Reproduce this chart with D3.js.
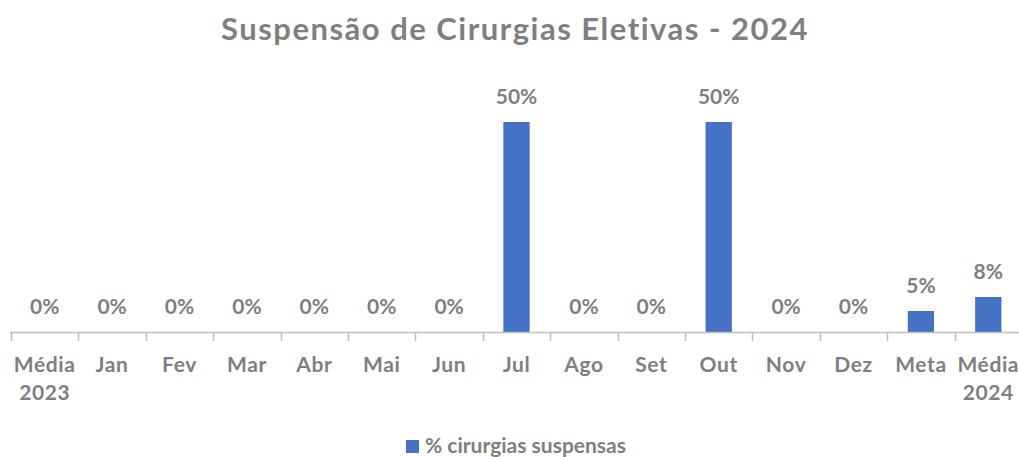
<!DOCTYPE html>
<html>
<head>
<meta charset="utf-8">
<script src="https://cdn.jsdelivr.net/npm/d3@7.9.0/dist/d3.min.js"></script>
<style>
  body { margin: 0; background: #fff; }
  svg text { font-family: Lato, "Open Sans", sans-serif; font-weight: bold; fill: #7f7f7f; }
</style>
</head>
<body>
<svg id="chart" width="1019" height="457"></svg>
<script>
const categories = ['Média\n2023','Jan','Fev','Mar','Abr','Mai','Jun','Jul','Ago','Set','Out','Nov','Dez','Meta','Média\n2024'];
const values = [0,0,0,0,0,0,0,50,0,0,50,0,0,5,8.33];
const valueLabels = ['0%','0%','0%','0%','0%','0%','0%','50%','0%','0%','50%','0%','0%','5%','8%'];
const seriesName = '% cirurgias suspensas';
const title = 'Suspensão de Cirurgias Eletivas - 2024';

const svg = d3.select('#chart');
const barColor = '#4472c4';

const x = d3.scaleBand().domain(categories).range([11, 1022]).padding(0);
const y = d3.scaleLinear().domain([0, 60]).range([332, 80]);
const bw = x.bandwidth();

svg.append('text')
  .attr('x', 515).attr('y', 40)
  .attr('text-anchor', 'middle')
  .style('font-size', '31px')
  .style('letter-spacing', '1.5px')
  .text(title);

// bars
svg.selectAll('rect.bar')
  .data(categories)
  .join('rect')
  .attr('class', 'bar')
  .attr('x', d => x(d) + bw * 0.305)
  .attr('width', bw * 0.39)
  .attr('y', (d, i) => y(values[i]))
  .attr('height', (d, i) => y(0) - y(values[i]))
  .attr('fill', barColor);

// value labels
svg.selectAll('text.val')
  .data(categories)
  .join('text')
  .attr('class', 'val')
  .attr('x', d => x(d) + bw / 2)
  .attr('y', (d, i) => y(values[i]) - 18)
  .attr('text-anchor', 'middle')
  .style('font-size', '21px')
  .text((d, i) => valueLabels[i]);

// axis line + ticks
svg.append('line')
  .attr('x1', 10).attr('x2', 1019)
  .attr('y1', y(0) + 0.5).attr('y2', y(0) + 0.5)
  .attr('stroke', '#bfbfbf').attr('stroke-width', 1.5);

svg.selectAll('line.tick')
  .data(categories)
  .join('line')
  .attr('class', 'tick')
  .attr('x1', d => Math.round(x(d)) + 0.5)
  .attr('x2', d => Math.round(x(d)) + 0.5)
  .attr('y1', y(0)).attr('y2', y(0) + 9)
  .attr('stroke', '#bfbfbf').attr('stroke-width', 1.5);

// category labels
const cat = svg.selectAll('text.cat')
  .data(categories)
  .join('text')
  .attr('class', 'cat')
  .attr('text-anchor', 'middle')
  .style('font-size', '21px')
  .style('letter-spacing', '0.6px');
cat.each(function(d) {
  const lines = d.split('\n');
  d3.select(this).selectAll('tspan')
    .data(lines)
    .join('tspan')
    .attr('x', x(d) + bw / 2)
    .attr('y', (l, j) => 372 + j * 28)
    .text(l => l);
});

// legend
svg.append('rect')
  .attr('x', 406).attr('y', 440)
  .attr('width', 13).attr('height', 13)
  .attr('fill', barColor);
svg.append('text')
  .attr('x', 425).attr('y', 453)
  .style('font-size', '21px')
  .text(seriesName);
</script>
</body>
</html>
